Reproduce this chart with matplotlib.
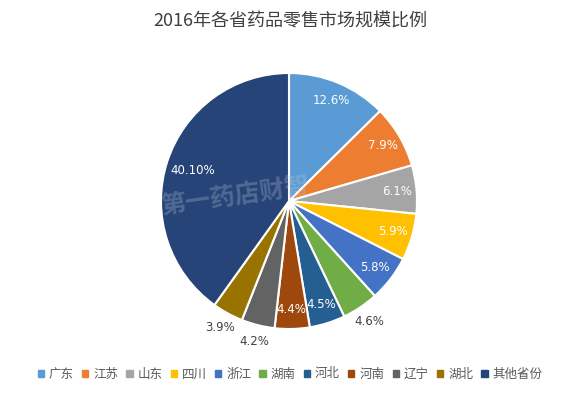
import matplotlib
matplotlib.use("Agg")
import matplotlib.pyplot as plt
import numpy as np

plt.rcParams['font.family'] = ['Noto Sans CJK SC', 'DejaVu Sans']

categories = ["广东", "江苏", "山东", "四川", "浙江", "湖南", "河北", "河南", "辽宁", "湖北", "其他省份"]
values = [12.6, 7.9, 6.1, 5.9, 5.8, 4.6, 4.5, 4.4, 4.2, 3.9, 40.10]
labels = ["12.6%", "7.9%", "6.1%", "5.9%", "5.8%", "4.6%", "4.5%", "4.4%", "4.2%", "3.9%", "40.10%"]
colors = ["#5B9BD5", "#ED7D31", "#A5A5A5", "#FFC000", "#4472C4", "#70AD47",
          "#255E91", "#9E480E", "#636363", "#997300", "#264478"]
outside = [False, False, False, False, False, True, False, False, True, True, False]

W, H = 580, 397
cx, cy, R = 289, 201, 128

fig = plt.figure(figsize=(W / 100, H / 100), dpi=100)
ax = fig.add_axes([(cx - R) / W, 1 - (cy + R) / H, 2 * R / W, 2 * R / H])
wedges, _ = ax.pie(values, colors=colors, startangle=90, counterclock=False,
                   wedgeprops=dict(edgecolor="white", linewidth=1.5))
ax.set_xlim(-1, 1)
ax.set_ylim(-1, 1)
ax.set_aspect("equal")

for w, lab, out in zip(wedges, labels, outside):
    ang = np.deg2rad((w.theta1 + w.theta2) / 2)
    r = 1.13 if out else 0.85
    if lab == "40.10%":
        r = 0.79
    x, y = r * np.cos(ang), r * np.sin(ang)
    ax.text(x, y, lab, ha="center", va="center", fontsize=8.5,
            color="#404040" if out else "white", family=["DejaVu Sans"])

ax.text(-0.42, 0.04, "第一药店财智", fontsize=18, fontweight="bold", color="#b8c2d0",
        alpha=0.3, ha="center", va="center", rotation=8)

fig.text(0.5, 1 - 21 / H, "2016年各省药品零售市场规模比例", ha="center", va="center",
         fontsize=13, color="#404040")

handles = [plt.Rectangle((0, 0), 1, 1, color=c) for c in colors]
fig.legend(handles, categories, loc="center", bbox_to_anchor=(0.5, 1 - 374 / H),
           ncol=11, frameon=False, fontsize=9, handlelength=0.5, handleheight=0.5,
           handletextpad=0.4, columnspacing=0.65, labelcolor="#595959")

fig.savefig("out.png", dpi=100)
